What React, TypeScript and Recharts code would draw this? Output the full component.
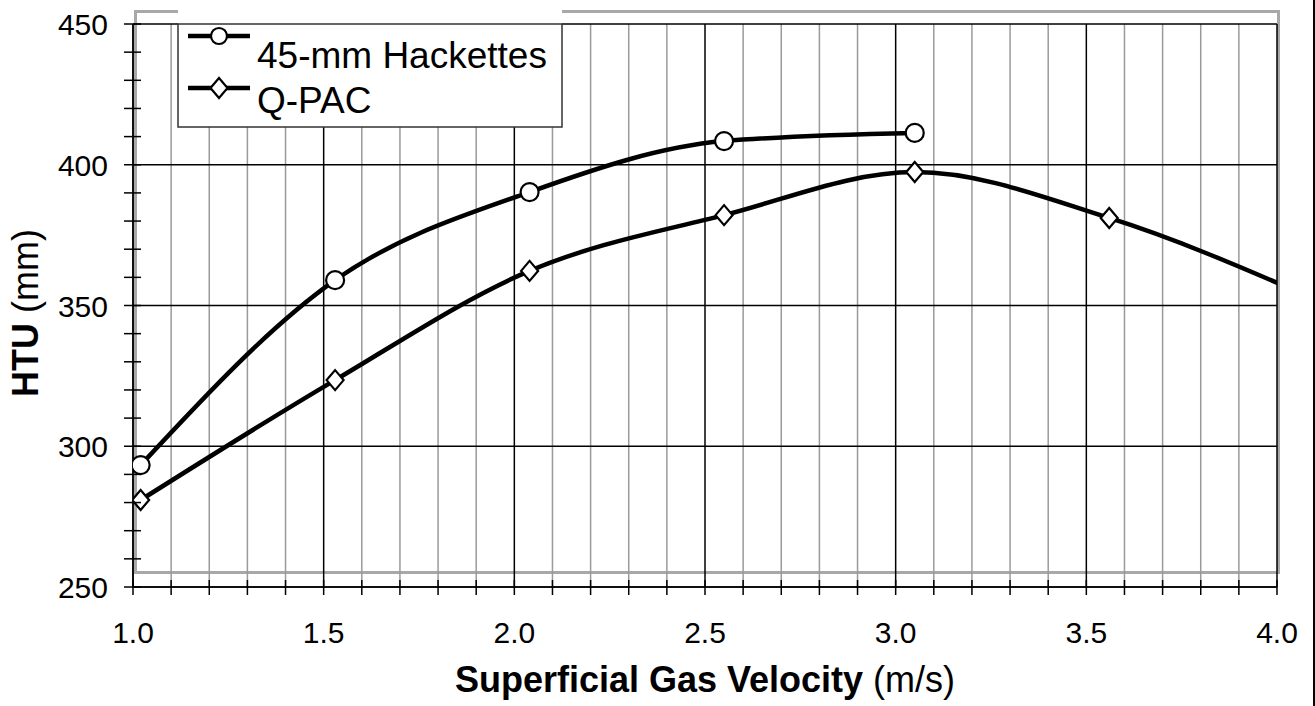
import React from 'react';
import { CartesianGrid, Label, Line, LineChart, XAxis, YAxis } from 'recharts';

const FONT = '"Liberation Sans", Arial, sans-serif';

// 45-mm Hackettes
const hackettesVelocity = [1.02, 1.53, 2.04, 2.55, 3.05];
const hackettesHtu = [293.3, 359, 390.3, 408.4, 411.3];

// Q-PAC (last point sits just past the right edge, the curve runs off the plot)
const qpacVelocity = [1.02, 1.53, 2.04, 2.55, 3.05, 3.56, 4.07];
const qpacHtu = [280.9, 323.5, 362.3, 382.1, 397.4, 381.1, 354];

const xTicks = [
  1.0, 1.1, 1.2, 1.3, 1.4, 1.5, 1.6, 1.7, 1.8, 1.9, 2.0, 2.1, 2.2, 2.3, 2.4, 2.5,
  2.6, 2.7, 2.8, 2.9, 3.0, 3.1, 3.2, 3.3, 3.4, 3.5, 3.6, 3.7, 3.8, 3.9, 4.0,
];
const xMajor = [1.0, 1.5, 2.0, 2.5, 3.0, 3.5, 4.0];
const yTicks = [
  250, 260, 270, 280, 290, 300, 310, 320, 330, 340, 350, 360, 370, 380, 390, 400,
  410, 420, 430, 440, 450,
];
const yMajor = [250, 300, 350, 400, 450];

const hackettes = hackettesVelocity.map((x, i) => ({ x, htu: hackettesHtu[i] }));
const qpac = qpacVelocity.map((x, i) => ({ x, htu: qpacHtu[i] }));

const isMajorX = (v: number) => xMajor.some((m) => Math.abs(m - v) < 1e-6);

const XTick = (props: any) => {
  const { x, y, payload } = props;
  const v = payload.value as number;
  return (
    <g>
      <line x1={x} x2={x} y1={y - 7} y2={y + 8} stroke="#000" strokeWidth={1.5} />
      {isMajorX(v) ? (
        <text x={x} y={y + 56} textAnchor="middle" fontSize={30} fontFamily={FONT} fill="#000">
          {v.toFixed(1)}
        </text>
      ) : null}
    </g>
  );
};

const YTick = (props: any) => {
  const { x, y, payload } = props;
  const v = payload.value as number;
  return (
    <g>
      <line x1={x - 9} x2={x + 8} y1={y} y2={y} stroke="#000" strokeWidth={1.5} />
      {yMajor.includes(v) ? (
        <text x={x - 25} y={y + 11} textAnchor="end" fontSize={30} fontFamily={FONT} fill="#000">
          {v}
        </text>
      ) : null}
    </g>
  );
};

const circleDot = (p: any) => {
  if (p.cx == null || p.cy == null) return <g key={p.index} />;
  return <circle key={p.index} cx={p.cx} cy={p.cy} r={9} fill="#fff" stroke="#000" strokeWidth={2.2} />;
};

const diamondPath = (cx: number, cy: number) =>
  `M${cx},${cy - 10}L${cx + 8.5},${cy}L${cx},${cy + 10}L${cx - 8.5},${cy}Z`;

const diamondDot = (p: any) => {
  if (p.cx == null || p.cy == null) return <g key={p.index} />;
  return <path key={p.index} d={diamondPath(p.cx, p.cy)} fill="#fff" stroke="#000" strokeWidth={2.2} />;
};

const LegendBox = () => (
  <svg
    width={1315}
    height={706}
    style={{ position: 'absolute', left: 0, top: 0, pointerEvents: 'none' }}
  >
    <rect x={178} y={8} width={384} height={16} fill="#fff" />
    <rect x={178} y={24} width={384} height={103} fill="#fff" stroke="#333" strokeWidth={1.5} />
    <line x1={188} x2={250} y1={36} y2={36} stroke="#000" strokeWidth={4.5} />
    <circle cx={219} cy={36} r={8} fill="#fff" stroke="#000" strokeWidth={2.2} />
    <text x={257} y={68} fontSize={37} fontFamily={FONT} fill="#000">
      45-mm Hackettes
    </text>
    <line x1={188} x2={250} y1={88} y2={88} stroke="#000" strokeWidth={4.5} />
    <path d={diamondPath(219, 88)} fill="#fff" stroke="#000" strokeWidth={2.2} />
    <text x={257} y={113} fontSize={37} fontFamily={FONT} fill="#000">
      Q-PAC
    </text>
  </svg>
);

export default function App() {
  return (
    <div style={{ position: 'absolute', left: 0, top: 0, width: 1315, height: 706, background: '#fff' }}>
      <div
        style={{
          position: 'absolute',
          left: 134,
          top: 10,
          width: 1146,
          height: 564,
          border: '3px solid #a8a8a8',
          boxSizing: 'border-box',
        }}
      />
      <div style={{ position: 'absolute', left: 1313, top: 0, width: 2, height: 706, background: '#000' }} />
      <div style={{ position: 'absolute', left: 0, top: 0 }}>
        <LineChart width={1315} height={706} margin={{ top: 24, right: 38, bottom: 0, left: 0 }}>
          <CartesianGrid
            horizontal={false}
            verticalValues={xTicks.filter((t) => !isMajorX(t))}
            stroke="#9a9a9a"
            strokeWidth={1.5}
          />
          <CartesianGrid
            verticalValues={xMajor}
            horizontalValues={yMajor}
            stroke="#000"
            strokeWidth={1.5}
          />
          <XAxis
            dataKey="x"
            type="number"
            domain={[1, 4]}
            allowDataOverflow
            ticks={xTicks}
            interval={0}
            height={119}
            tickSize={0}
            tickMargin={0}
            tickLine={false}
            tick={<XTick />}
            axisLine={{ stroke: '#000', strokeWidth: 1.5 }}
          >
            <Label
              content={() => (
                <text x={705} y={692} textAnchor="middle" fontSize={36} fontFamily={FONT} fill="#000">
                  <tspan fontWeight="bold">Superficial Gas Velocity</tspan>
                  <tspan> (m/s)</tspan>
                </text>
              )}
            />
          </XAxis>
          <YAxis
            type="number"
            domain={[250, 450]}
            ticks={yTicks}
            interval={0}
            width={133}
            tickSize={0}
            tickMargin={0}
            tickLine={false}
            tick={<YTick />}
            axisLine={{ stroke: '#000', strokeWidth: 1.5 }}
          >
            <Label
              content={() => (
                <text
                  x={38}
                  y={313}
                  transform="rotate(-90 38 313)"
                  textAnchor="middle"
                  fontSize={36}
                  fontFamily={FONT}
                  fill="#000"
                >
                  <tspan fontWeight="bold">HTU</tspan>
                  <tspan> (mm)</tspan>
                </text>
              )}
            />
          </YAxis>
          <Line
            data={hackettes}
            dataKey="htu"
            type="monotone"
            stroke="#000"
            strokeWidth={4.5}
            dot={circleDot}
            activeDot={false}
            isAnimationActive={false}
          />
          <Line
            data={qpac}
            dataKey="htu"
            type="monotone"
            stroke="#000"
            strokeWidth={4.5}
            dot={diamondDot}
            activeDot={false}
            isAnimationActive={false}
          />
        </LineChart>
      </div>
      <LegendBox />
    </div>
  );
}
